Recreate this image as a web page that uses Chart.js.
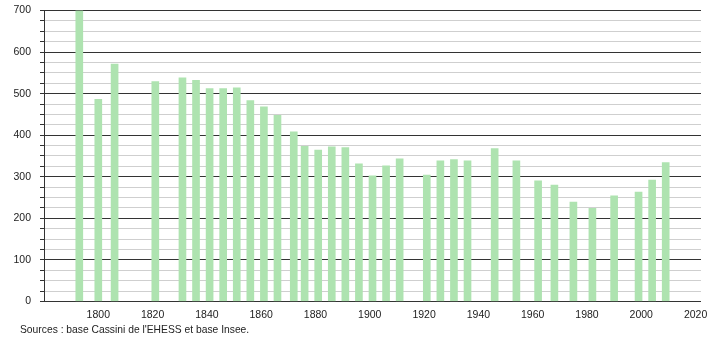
<!DOCTYPE html>
<html>
<head>
<meta charset="utf-8">
<script src="https://cdn.jsdelivr.net/npm/chart.js@4.4.1/dist/chart.umd.min.js"></script>
<style>
  body { margin: 0; background: #fff; }
  #wrap { position: relative; width: 710px; height: 340px; }
  #source {
    position: absolute; left: 20px; top: 324px;
    font: 10.3px "Liberation Sans", Arial, sans-serif; color: #222;
  }
</style>
</head>
<body>
<div id="wrap">
  <canvas id="popChart" width="710" height="340"></canvas>
  <div id="source">Sources : base Cassini de l'EHESS et base Insee.</div>
</div>
<script>
// census years and population counts
const years = [1793, 1800, 1806, 1821, 1831, 1836, 1841, 1846, 1851, 1856, 1861, 1866,
  1872, 1876, 1881, 1886, 1891, 1896, 1901, 1906, 1911, 1921, 1926, 1931, 1936,
  1946, 1954, 1962, 1968, 1975, 1982, 1990, 1999, 2004, 2009];
const population = [700, 486, 571, 529, 538, 532, 512, 512, 514, 483, 468, 448,
  408, 373, 364, 372, 370, 331, 302, 326, 343, 304, 338, 341, 338,
  368, 338, 290, 280, 239, 224, 254, 263, 292, 334];
const xTicks = [1800, 1820, 1840, 1860, 1880, 1900, 1920, 1940, 1960, 1980, 2000, 2020];
const yLabels = [0, 100, 200, 300, 400, 500, 600, 700];

const font = { family: '"Liberation Sans", Arial, sans-serif', size: 10.5 };

const ctx = document.getElementById('popChart').getContext('2d');
new Chart(ctx, {
  type: 'bar',
  data: {
    datasets: [{
      data: years.map((y, i) => ({ x: y, y: population[i] })),
      backgroundColor: '#aee3b0',
      borderWidth: 0,
      barThickness: 7
    }]
  },
  options: {
    responsive: false,
    animation: false,
    layout: { padding: { top: 10.5, right: 9, bottom: 12, left: 0 } },
    plugins: { legend: { display: false }, tooltip: { enabled: false } },
    scales: {
      x: {
        type: 'linear',
        offset: false,
        min: 1780,
        max: 2022,
        afterBuildTicks: scale => { scale.ticks = xTicks.map(v => ({ value: v })); },
        afterFit: scale => { scale.paddingRight = 0; scale.paddingLeft = 0; },
        grid: { display: false, drawTicks: false, offset: false },
        border: { display: false },
        ticks: { font, color: '#222', padding: 7, maxRotation: 0, autoSkip: false,
          callback: v => String(v) }
      },
      y: {
        min: 0,
        max: 700,
        afterFit: scale => {
          scale.width = 44;
          scale.paddingTop = 0;
          scale.paddingBottom = 0;
        },
        afterBuildTicks: scale => {
          const t = [];
          for (let v = 0; v <= 700; v += 25) t.push({ value: v });
          scale.ticks = t;
        },
        grid: {
          color: c => (c.tick && c.tick.value % 100 === 0) ? '#333' : '#cfcfcf',
          tickColor: '#333',
          tickLength: 4
        },
        border: { color: '#333' },
        ticks: {
          font, color: '#222', padding: 9, autoSkip: false,
          callback: v => yLabels.includes(v) ? String(v) : ''
        }
      }
    }
  }
});
</script>
</body>
</html>
